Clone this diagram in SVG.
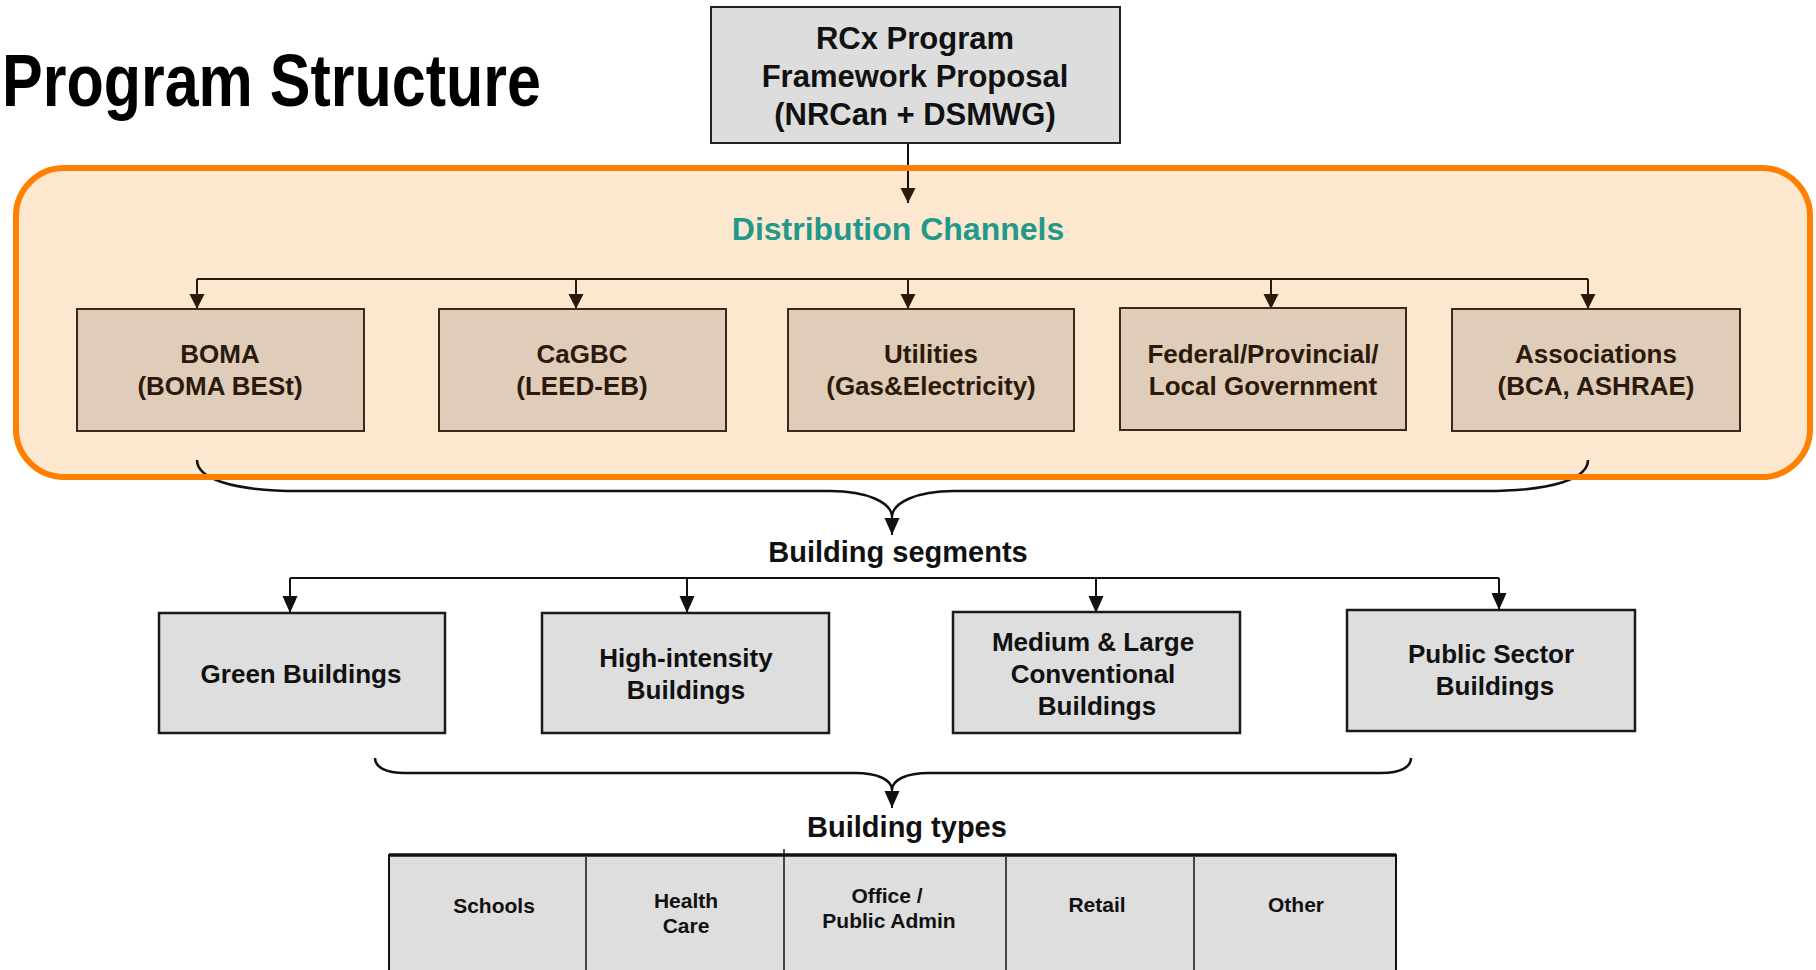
<svg xmlns="http://www.w3.org/2000/svg" width="1816" height="970" viewBox="0 0 1816 970">
  <defs>
    <style>
      text { font-family: "Liberation Sans", Arial, sans-serif; font-weight: bold; text-anchor: middle; }
      .title { font-size: 74px; fill: #000; text-anchor: start; }
      .top { font-size: 31px; fill: #111; }
      .dc { font-size: 32px; fill: #21998a; }
      .ch { font-size: 26px; fill: #2b1a0c; }
      .seg { font-size: 26px; fill: #111; }
      .hdr { font-size: 29px; fill: #111; }
      .typ { font-size: 21px; fill: #111; }
      .chbox { fill: #dfcdb9; stroke: #3a2a1c; stroke-width: 2; }
      .segbox { fill: #dedede; stroke: #1a1a1a; stroke-width: 2.5; }
      .ln { fill: none; stroke: #111; stroke-width: 2; }
      .lnb { fill: none; stroke: #2b1a0c; stroke-width: 2; }
      .brace { fill: none; stroke: #111; stroke-width: 2.5; }
    </style>
    <marker id="ab" markerUnits="userSpaceOnUse" markerWidth="16" markerHeight="16" refX="15" refY="7.5" orient="auto">
      <path d="M0,0 L15,7.5 L0,15 z" fill="#2b1a0c"/>
    </marker>
    <marker id="ak" markerUnits="userSpaceOnUse" markerWidth="18" markerHeight="16" refX="17" refY="7.5" orient="auto">
      <path d="M0,0 L17,7.5 L0,15 z" fill="#111"/>
    </marker>
  </defs>

  <rect width="1816" height="970" fill="#fff"/>

  <g id="title">
    <text class="title" x="2" y="106" textLength="539" lengthAdjust="spacingAndGlyphs">Program Structure</text>
  </g>

  <g id="container">
    <rect x="16" y="168" width="1794" height="309" rx="48" fill="#fde7cf"/>
    <text class="dc" x="898" y="240">Distribution Channels</text>
  </g>

  <g id="connectors">
    <path class="ln" d="M908,143 L908,203" marker-end="url(#ab)"/>
    <path class="lnb" d="M197,279 L1588,279"/>
    <path class="lnb" d="M197,279 L197,309" marker-end="url(#ab)"/>
    <path class="lnb" d="M576,279 L576,309" marker-end="url(#ab)"/>
    <path class="lnb" d="M908,279 L908,309" marker-end="url(#ab)"/>
    <path class="lnb" d="M1271,279 L1271,309" marker-end="url(#ab)"/>
    <path class="lnb" d="M1588,279 L1588,309" marker-end="url(#ab)"/>
    <path class="brace" d="M197,460 C197,478 230,491 300,491 L830,491 C868,491 892,503 892,517 C892,503 916,491 954,491 L1485,491 C1555,491 1588,478 1588,460"/>
    <path class="ln" d="M892,517 L892,535" marker-end="url(#ak)"/>
    <path class="ln" d="M290,578 L1499,578"/>
    <path class="ln" d="M290,578 L290,613" marker-end="url(#ak)"/>
    <path class="ln" d="M687,578 L687,613" marker-end="url(#ak)"/>
    <path class="ln" d="M1096,578 L1096,613" marker-end="url(#ak)"/>
    <path class="ln" d="M1499,578 L1499,610" marker-end="url(#ak)"/>
    <path class="brace" d="M375,758 C375,767 385,773 405,773 L855,773 C878,773 892,780 892,790 C892,780 906,773 929,773 L1381,773 C1401,773 1411,767 1411,758"/>
    <path class="ln" d="M892,790 L892,808" marker-end="url(#ak)"/>
  </g>

  <g id="container-border">
    <rect x="16" y="168" width="1794" height="309" rx="48" fill="none" stroke="#ff8000" stroke-width="6"/>
  </g>

  <g id="rcx">
    <rect x="711" y="7" width="409" height="136" fill="#dddddd" stroke="#222" stroke-width="2"/>
    <text class="top" x="915" y="49">RCx Program</text>
    <text class="top" x="915" y="87">Framework Proposal</text>
    <text class="top" x="915" y="125">(NRCan + DSMWG)</text>
  </g>

  <g id="boma">
    <rect class="chbox" x="77" y="309" width="287" height="122"/>
    <text class="ch" x="220" y="363">BOMA</text>
    <text class="ch" x="220" y="395">(BOMA BESt)</text>
  </g>
  <g id="cagbc">
    <rect class="chbox" x="439" y="309" width="287" height="122"/>
    <text class="ch" x="582" y="363">CaGBC</text>
    <text class="ch" x="582" y="395">(LEED-EB)</text>
  </g>
  <g id="utilities">
    <rect class="chbox" x="788" y="309" width="286" height="122"/>
    <text class="ch" x="931" y="363">Utilities</text>
    <text class="ch" x="931" y="395">(Gas&amp;Electricity)</text>
  </g>
  <g id="government">
    <rect class="chbox" x="1120" y="308" width="286" height="122"/>
    <text class="ch" x="1263" y="363">Federal/Provincial/</text>
    <text class="ch" x="1263" y="395">Local Government</text>
  </g>
  <g id="associations">
    <rect class="chbox" x="1452" y="309" width="288" height="122"/>
    <text class="ch" x="1596" y="363">Associations</text>
    <text class="ch" x="1596" y="395">(BCA, ASHRAE)</text>
  </g>

  <g id="building-segments-label">
    <text class="hdr" x="898" y="562">Building segments</text>
  </g>

  <g id="green">
    <rect class="segbox" x="159" y="613" width="286" height="120"/>
    <text class="seg" x="301" y="683">Green Buildings</text>
  </g>
  <g id="high-intensity">
    <rect class="segbox" x="542" y="613" width="287" height="120"/>
    <text class="seg" x="686" y="667">High-intensity</text>
    <text class="seg" x="686" y="699">Buildings</text>
  </g>
  <g id="medium-large">
    <rect class="segbox" x="953" y="612" width="287" height="121"/>
    <text class="seg" x="1093" y="651">Medium &amp; Large</text>
    <text class="seg" x="1093" y="683">Conventional</text>
    <text class="seg" x="1097" y="715">Buildings</text>
  </g>
  <g id="public-sector">
    <rect class="segbox" x="1347" y="610" width="288" height="121"/>
    <text class="seg" x="1491" y="663">Public Sector</text>
    <text class="seg" x="1495" y="695">Buildings</text>
  </g>

  <g id="building-types-label">
    <text class="hdr" x="907" y="837">Building types</text>
  </g>

  <g id="building-types">
    <rect x="389" y="855" width="1007" height="130" fill="#dedede" stroke="#111" stroke-width="2"/>
    <line x1="389" y1="855" x2="1396" y2="855" stroke="#111" stroke-width="3.5"/>
    <line x1="586" y1="857" x2="586" y2="970" stroke="#111" stroke-width="1.5"/>
    <line x1="784" y1="849" x2="784" y2="970" stroke="#111" stroke-width="1.5"/>
    <line x1="1006" y1="857" x2="1006" y2="970" stroke="#111" stroke-width="1.5"/>
    <line x1="1194" y1="857" x2="1194" y2="970" stroke="#111" stroke-width="1.5"/>
    <text class="typ" x="494" y="913">Schools</text>
    <text class="typ" x="686" y="908">Health</text>
    <text class="typ" x="686" y="933">Care</text>
    <text class="typ" x="887" y="903">Office /</text>
    <text class="typ" x="889" y="928">Public Admin</text>
    <text class="typ" x="1097" y="912">Retail</text>
    <text class="typ" x="1296" y="912">Other</text>
  </g>
</svg>
